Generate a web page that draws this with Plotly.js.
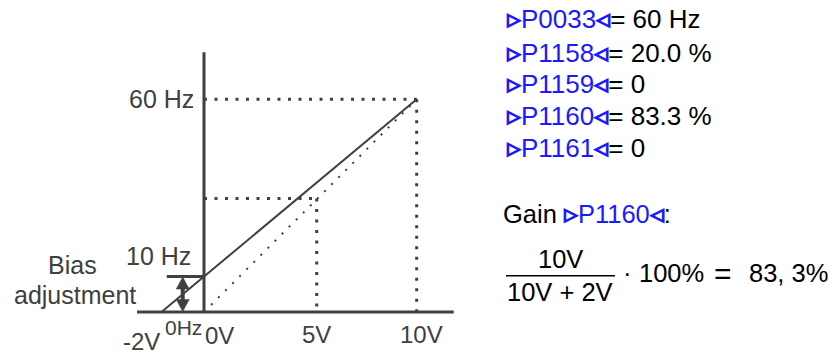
<!DOCTYPE html>
<html>
<head>
<meta charset="utf-8">
<script src="https://cdn.plot.ly/plotly-3.0.1.min.js"></script>
<style>html,body{margin:0;padding:0;background:#fff;}#chart{width:835px;height:355px;}</style>
</head>
<body>
<div id="chart"></div>
<script>
// ---- data ----
const solidVolts = [-2, 10];          // bias-shifted characteristic
const solidHz = [0, 60];
const idealVolts = [0, 10];           // original characteristic
const idealHz = [0, 60];
const maxVolt = 10;
const maxHz = 60;
const midVolt = 5.3;                  // "5V" reference point (as drawn)
const midHz = 32;
const biasHz = 10;
const axisVoltRange = [-3.15, 11.74];
const axisHzTop = 73.3;
const biasBarVolts = [-1.75, 0];
const biasArrowVolt = -1.0;
const xTickVals = [-2, 0, 5.3, 10];
const xTickText = ['-2V', '0V', '5V', '10V'];
const yTickVals = [60, 10, 0];
const yTickText = ['60 Hz', '10 Hz', '0Hz'];
const paramNames = ['P0033', 'P1158', 'P1159', 'P1160', 'P1161'];
const paramValues = ['60 Hz', '20.0 %', '0', '83.3 %', '0'];
const gainParam = 'P1160';
const numerText = '10V';
const denomText = '10V + 2V';
const resultPieces = ['·', '100%', '=', '83, 3%'];

// ---- layout helpers ----
const W = 835, H = 355;
const XR = [-9.591, 29.667], YR = [-12.13, 88.01];
const pxPerVolt = W / (XR[1] - XR[0]);
const pxPerHz = H / (YR[1] - YR[0]);
const GRAY = '#404040', BLUE = '#1a1aff';
const FONT = 'Liberation Sans, Arial, sans-serif';
const px = v => v / W;
const py = v => 1 - v / H;
const tri = (c) => '<span style="font-size:28px;font-weight:bold">' + c + '</span>';

const traces = [];
// axes lines
traces.push({x: axisVoltRange, y: [0, 0], mode: 'lines', line: {color: GRAY, width: 3}, hoverinfo: 'skip'});
traces.push({x: [0, 0], y: [0, axisHzTop], mode: 'lines', line: {color: GRAY, width: 3}, hoverinfo: 'skip'});
// dotted reference lines
const refDot = {color: GRAY, width: 3, dash: '3px,7.5px'};
traces.push({x: [0, maxVolt], y: [maxHz, maxHz], mode: 'lines', line: refDot, hoverinfo: 'skip'});
traces.push({x: [maxVolt, maxVolt], y: [maxHz, 0], mode: 'lines', line: refDot, hoverinfo: 'skip'});
traces.push({x: [0, midVolt], y: [midHz, midHz], mode: 'lines', line: refDot, hoverinfo: 'skip'});
traces.push({x: [midVolt, midVolt], y: [midHz, 0], mode: 'lines', line: refDot, hoverinfo: 'skip'});
// ideal (dotted) characteristic
traces.push({x: idealVolts, y: idealHz, mode: 'lines', line: {color: GRAY, width: 2, dash: '2px,8px'}, hoverinfo: 'skip'});
// solid characteristic
traces.push({x: solidVolts, y: solidHz, mode: 'lines', line: {color: GRAY, width: 2}, hoverinfo: 'skip'});
// bias bar
traces.push({x: biasBarVolts, y: [biasHz, biasHz], mode: 'lines', line: {color: GRAY, width: 3}, hoverinfo: 'skip'});
// bias double arrow: shaft + two filled heads (head size given in pixels)
const headHalfW = 6.5 / pxPerVolt, headLen = 12 / pxPerHz;
traces.push({x: [biasArrowVolt, biasArrowVolt], y: [headLen * 0.5, biasHz - headLen * 0.5], mode: 'lines',
  line: {color: GRAY, width: 4}, hoverinfo: 'skip'});
traces.push({x: [biasArrowVolt, biasArrowVolt - headHalfW, biasArrowVolt + headHalfW, biasArrowVolt],
  y: [biasHz - 0.15, biasHz - 0.15 - headLen, biasHz - 0.15 - headLen, biasHz - 0.15],
  mode: 'lines', fill: 'toself', fillcolor: GRAY, line: {color: GRAY, width: 0.5}, hoverinfo: 'skip'});
traces.push({x: [biasArrowVolt, biasArrowVolt - headHalfW, biasArrowVolt + headHalfW, biasArrowVolt],
  y: [0.15, 0.15 + headLen, 0.15 + headLen, 0.15],
  mode: 'lines', fill: 'toself', fillcolor: GRAY, line: {color: GRAY, width: 0.5}, hoverinfo: 'skip'});

const annotations = [];
const leftFont = {family: FONT, size: 24, color: GRAY};
// x labels
const xLabelShift = [[-20, -29], [15, -23], [0, -22], [5, -22]];
xTickVals.forEach((v, i) => {
  annotations.push({x: v, y: 0, xref: 'x', yref: 'y', text: xTickText[i], showarrow: false,
    xanchor: 'center', yanchor: 'middle', xshift: xLabelShift[i][0], yshift: xLabelShift[i][1], font: leftFont});
});
// y labels
const yLabelShift = [[-8, 0, 'right', 25], [-11, 21, 'right', 25], [-21, -15, 'center', 21]];
yTickVals.forEach((v, i) => {
  const s = yLabelShift[i];
  annotations.push({x: 0, y: v, xref: 'x', yref: 'y', text: yTickText[i], showarrow: false,
    xanchor: s[2], yanchor: 'middle', xshift: s[0], yshift: s[1], font: {family: FONT, size: s[3], color: GRAY}});
});
annotations.push({x: px(72), y: py(265), xref: 'paper', yref: 'paper', text: 'Bias', showarrow: false,
  xanchor: 'center', yanchor: 'middle', font: {family: FONT, size: 25, color: GRAY}});
annotations.push({x: px(75), y: py(295), xref: 'paper', yref: 'paper', text: 'adjustment', showarrow: false,
  xanchor: 'center', yanchor: 'middle', font: {family: FONT, size: 25, color: GRAY}});

// parameter list
const rightFont = {family: FONT, size: 26, color: '#000'};
const paramY = [18, 52, 83, 115, 147];
paramNames.forEach((n, i) => {
  annotations.push({x: px(504), y: py(paramY[i]), xref: 'paper', yref: 'paper',
    text: '<span style="color:' + BLUE + '">' + tri('▹') + n + tri('◃') + '</span>= ' + paramValues[i],
    showarrow: false, xanchor: 'left', yanchor: 'middle', font: rightFont});
});
annotations.push({x: px(501), y: py(213), xref: 'paper', yref: 'paper',
  text: 'Gain <span style="color:' + BLUE + '">' + tri('▹') + gainParam + tri('◃') + '</span>:',
  showarrow: false, xanchor: 'left', yanchor: 'middle', font: {family: FONT, size: 25.5, color: '#000'}});
annotations.push({x: px(560), y: py(259), xref: 'paper', yref: 'paper', text: numerText,
  showarrow: false, xanchor: 'center', yanchor: 'middle', font: {family: FONT, size: 25.5, color: '#000'}});
annotations.push({x: px(560), y: py(292), xref: 'paper', yref: 'paper', text: denomText,
  showarrow: false, xanchor: 'center', yanchor: 'middle', font: {family: FONT, size: 25.5, color: '#000'}});
const pieceX = [621, 637, 712, 747];
resultPieces.forEach((t, i) => {
  annotations.push({x: px(pieceX[i]), y: py(273), xref: 'paper', yref: 'paper', text: t,
    showarrow: false, xanchor: 'left', yanchor: 'middle',
    font: {family: FONT, size: (t === '=' ? 30 : 25.5), color: '#000'}});
});

const layout = {
  width: W, height: H, autosize: false,
  margin: {l: 0, r: 0, t: 0, b: 0, pad: 0},
  paper_bgcolor: '#fff', plot_bgcolor: '#fff',
  showlegend: false,
  xaxis: {range: XR, visible: false, fixedrange: true},
  yaxis: {range: YR, visible: false, fixedrange: true},
  shapes: [{type: 'line', xref: 'paper', yref: 'paper', x0: px(506), x1: px(615), y0: py(275.7), y1: py(275.7),
    line: {color: '#000', width: 1.5}}],
  annotations: annotations
};
Plotly.newPlot('chart', traces, layout, {displayModeBar: false, staticPlot: true});
</script>
</body>
</html>
